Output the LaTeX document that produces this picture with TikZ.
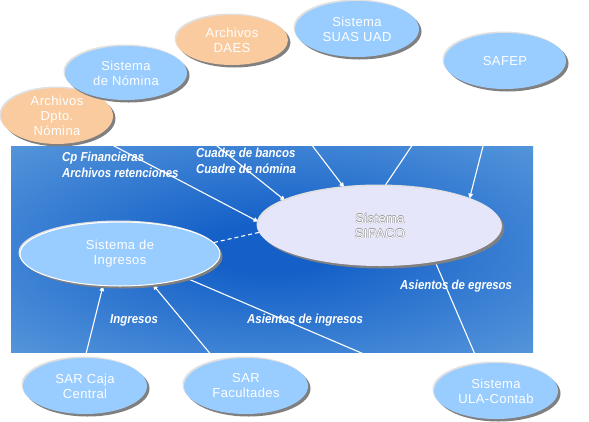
\documentclass[tikz,border=0pt]{standalone}
\usepackage{fontspec}
\setmainfont{Liberation Sans}
\newfontfamily\ellfont[LetterSpace=3]{Liberation Sans}
\newfontfamily\lblfont[FakeStretch=0.88]{Liberation Sans}
\usetikzlibrary{shapes.geometric,shadows,arrows.meta}
\definecolor{bgin}{HTML}{1460C8}
\definecolor{bgout}{HTML}{5E9DDD}
\definecolor{lblue}{HTML}{99CCFF}
\definecolor{peach}{HTML}{FACB9E}
\definecolor{lav}{HTML}{E6E6FA}
\definecolor{shadowgray}{HTML}{808080}
\definecolor{rim}{HTML}{E0E0E0}
\pgfdeclarelayer{bglayer}
\pgfdeclarelayer{linelayer}
\pgfsetlayers{bglayer,linelayer,main}
\pgfdeclareradialshading{bgshade}{\pgfpoint{0bp}{0bp}}{color(0bp)=(bgin); color(6bp)=(bgin); color(40bp)=(bgout); color(50bp)=(bgout)}
\tikzset{
  ell/.style={ellipse, inner sep=0pt, text=white, align=center,
    font=\ellfont\fontsize{13}{15}\selectfont,
    general shadow={shadow xshift=-1.5pt, shadow yshift=1.5pt, fill=rim},
    drop shadow={shadow xshift=2.5pt, shadow yshift=-2.5pt, fill=shadowgray, opacity=1}},
  blueell/.style={ell, fill=lblue},
  orangeell/.style={ell, fill=peach},
  lbl/.style={text=white, font=\lblfont\bfseries\itshape\fontsize{13}{16}\selectfont,
    align=left, inner sep=0pt, anchor=west},
  siptext/.style={font=\ellfont\fontsize{13}{15}\selectfont, align=center, inner sep=0pt},
  conn/.style={draw=white, line width=1.1pt},
  arr/.style={conn, -{Triangle[length=5pt,width=4.5pt]}},
  dconn/.style={conn, dash pattern=on 4pt off 3pt}
}
\begin{document}
\begin{tikzpicture}[x=1pt,y=-1pt]
\useasboundingbox (0,0) rectangle (589,421);
% background panel
\begin{pgfonlayer}{bglayer}
  \shade[shading=bgshade] (11,146) rectangle (533,352);
\end{pgfonlayer}
% ellipses
\node[orangeell, minimum width=112pt, minimum height=48pt] (dpto) at (57,116) {Archivos\\Dpto.\\Nómina};
\node[blueell, minimum width=122pt, minimum height=54pt] (nomina) at (126,73) {Sistema\\de Nómina};
\node[orangeell, minimum width=112pt, minimum height=50pt] (daes) at (232,40) {Archivos\\DAES};
\node[blueell, minimum width=124pt, minimum height=56pt] (suas) at (357,29) {Sistema\\SUAS UAD};
\node[blueell, minimum width=122pt, minimum height=56pt] (safep) at (505,61) {SAFEP};
\node[ell, fill=lav, minimum width=244pt, minimum height=80pt] (sipaco) at (380,226) {};
\node[blueell, draw=white, line width=1pt, minimum width=200pt, minimum height=64pt] (ingresos) at (120,254) {Sistema de\\Ingresos};
\node[blueell, minimum width=124pt, minimum height=56pt] (sarcaja) at (85,386) {SAR Caja\\Central};
\node[blueell, minimum width=124pt, minimum height=56pt] (sarfac) at (246,386) {SAR\\Facultades};
\node[blueell, minimum width=124pt, minimum height=56pt] (ula) at (496,391) {Sistema\\ULA-Contab};
% SIPACO label (white with thin grey outline)
\node[siptext, text=gray!80] (sipA) at ([xshift=0.5pt]sipaco.center) {Sistema\\SIPACO};
\node[siptext, text=gray!80] (sipB) at ([xshift=-0.5pt]sipaco.center) {Sistema\\SIPACO};
\node[siptext, text=gray!80] (sipC) at ([yshift=0.5pt]sipaco.center) {Sistema\\SIPACO};
\node[siptext, text=gray!80] (sipD) at ([yshift=-0.5pt]sipaco.center) {Sistema\\SIPACO};
\node[siptext, text=white] (sipT) at (sipaco.center) {Sistema\\SIPACO};
% connectors
\begin{pgfonlayer}{linelayer}
\begin{scope}
  \clip (11,146) rectangle (533,352);
  \draw[arr] (dpto) -- (sipaco.178);
  \draw[arr] (nomina) -- (sipaco.165);
  \draw[arr] (daes) -- (sipaco.133);
  \draw[arr] (safep) -- (sipaco.17.5);
  \draw[conn] (sipaco.83) -- (safep.200);
  \draw[dconn] (ingresos.7) -- (sipaco.183);
  \draw[arr] (sarcaja.north) -- (ingresos.-118);
  \draw[arr] (sarfac.140) -- (ingresos.-43);
  \draw[conn] (ingresos.-20) -- (ula.174);
  \draw[conn] (sipaco.-33) -- (ula.122);
\end{scope}
\end{pgfonlayer}
% labels
\node[lbl] (l1) at (62,165) {Cp Financieras\\Archivos retenciones};
\node[lbl] (l2) at (196,161) {Cuadre de bancos\\Cuadre de nómina};
\node[lbl] (l3) at (400,286) {Asientos de egresos};
\node[lbl] (l4) at (110,320) {Ingresos};
\node[lbl] (l5) at (247,320) {Asientos de ingresos};
\end{tikzpicture}
\end{document}
